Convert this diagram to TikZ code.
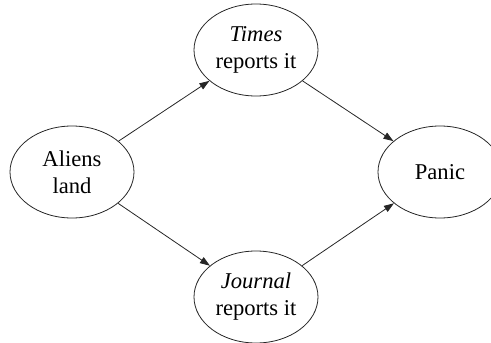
\documentclass[tikz,border=0pt]{standalone}
\usepackage{fontspec}
\setmainfont{Liberation Serif}
\usetikzlibrary{shapes.geometric,arrows.meta}
\tikzset{
  event/.style={draw=black!85, line width=0.8pt, ellipse, inner sep=0pt,
    minimum width=124pt, minimum height=92pt, align=center,
    font=\fontsize{22.6}{27}\selectfont},
  cause/.style={draw=black!85, line width=0.8pt,
    -{Triangle[length=10pt,width=7pt]}}
}
\begin{document}
\begin{tikzpicture}[x=1pt,y=-1pt]
  \useasboundingbox (0,0) rectangle (491,343);
  \begin{scope}
    \clip (0,0) rectangle (491,343);
    \node[event] (aliens) at (72,172) {Aliens\\land};
    \node[event] (times) at (256,50) {\textit{Times}\\reports it};
    \node[event] (journal) at (256,297) {\textit{Journal}\\reports it};
    \node[event] (panic) at (440,172) {Panic};
    \draw[cause] (aliens) -- (times);
    \draw[cause] (aliens) -- (journal);
    \draw[cause] (times) -- (panic);
    \draw[cause] (journal) -- (panic);
  \end{scope}
\end{tikzpicture}
\end{document}
